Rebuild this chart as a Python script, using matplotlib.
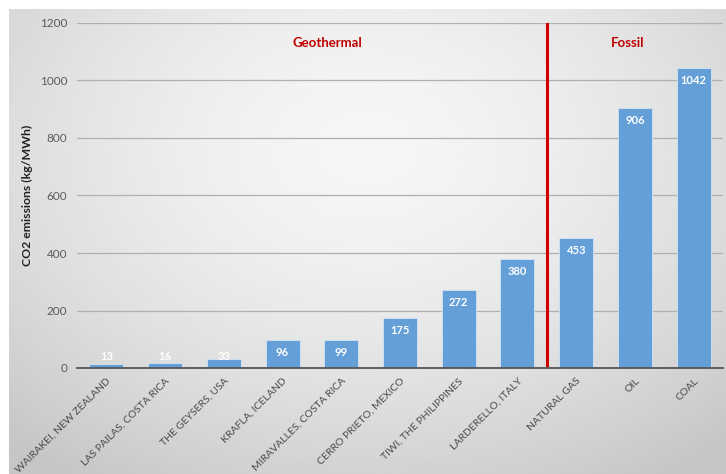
import numpy as np
import matplotlib
matplotlib.use('Agg')
import matplotlib.pyplot as plt

plt.rcParams['font.family'] = ['Lato', 'DejaVu Sans']

# data
sites = ['WAIRAKEI, NEW ZEALAND', 'LAS PAILAS, COSTA RICA', 'THE GEYSERS, USA',
         'KRAFLA, ICELAND', 'MIRAVALLES, COSTA RICA', 'CERRO PRIETO, MEXICO',
         'TIWI, THE PHILIPPINES', 'LARDERELLO, ITALY', 'NATURAL GAS', 'OIL', 'COAL']
emissions = [13, 16, 33, 96, 99, 175, 272, 380, 453, 906, 1042]
yticks = [0, 200, 400, 600, 800, 1000, 1200]

fig = plt.figure(figsize=(7.26, 4.74), dpi=100)
fig.patch.set_facecolor('white')

# gray radial gradient background (the slide-style chart area)
bg = fig.add_axes([9 / 726, 0, 1 - 9 / 726, 1 - 9 / 474])
gx, gy = np.meshgrid(np.linspace(0, 1, 300), np.linspace(0, 1, 200))
r = np.sqrt(((gx - 0.5) / 0.75) ** 2 + ((gy - 0.3) / 0.85) ** 2)
r = np.clip(r, 0, 1)
shade = 0.965 - 0.19 * r ** 1.6
bg.imshow(shade, cmap='gray', vmin=0, vmax=1, aspect='auto', origin='upper',
          extent=[0, 1, 0, 1], interpolation='bilinear')
bg.axis('off')

ax = fig.add_axes([77 / 726, 1 - 368 / 474, 646 / 726, 345 / 474])
ax.patch.set_alpha(0)
x = np.arange(len(sites))
ax.bar(x, emissions, width=0.58, color='#659fd8', edgecolor='#d5e4f2',
       linewidth=0.6, zorder=3)

for xi, v in zip(x, emissions):
    ax.annotate(str(v), (xi, max(v, 84)), xytext=(0, -9), textcoords='offset points',
                ha='center', va='center', color='white', fontsize=8, weight='bold',
                zorder=5)

ax.set_xlim(-0.5, len(sites) - 0.5)
ax.set_ylim(0, 1200)
ax.set_yticks(yticks)
ax.set_yticklabels([str(t) for t in yticks], fontsize=8.5, color='#5a5a5a')
ax.set_xticks(x)
ax.set_xticklabels(sites, rotation=45, ha='right', rotation_mode='anchor',
                   fontsize=7.5, color='#4a4a4a')
ax.tick_params(axis='y', length=0, pad=7)
ax.tick_params(axis='x', length=0, pad=6)
ax.grid(axis='y', color='#b0b0b0', linewidth=0.9, zorder=0)
ax.set_axisbelow(True)
for s in ['top', 'right', 'left']:
    ax.spines[s].set_visible(False)
ax.spines['bottom'].set_color('#555555')
ax.spines['bottom'].set_linewidth(1.3)
ax.spines['bottom'].set_zorder(4)

ax.set_ylabel('CO2 emissions (kg/MWh)', fontsize=8.8, weight='bold', color='#222222',
              labelpad=5)

# divider between geothermal and fossil
ax.plot([7.5, 7.5], [12, 1195], color='#d00000', linewidth=2.2, zorder=4, clip_on=False)
ax.text(3.76, 1130, 'Geothermal', color='#c00000', fontsize=9.5, weight='bold',
        ha='center', va='center')
ax.text(8.87, 1130, 'Fossil', color='#c00000', fontsize=9.5, weight='bold',
        ha='center', va='center')

fig.savefig('out.png', dpi=100)
